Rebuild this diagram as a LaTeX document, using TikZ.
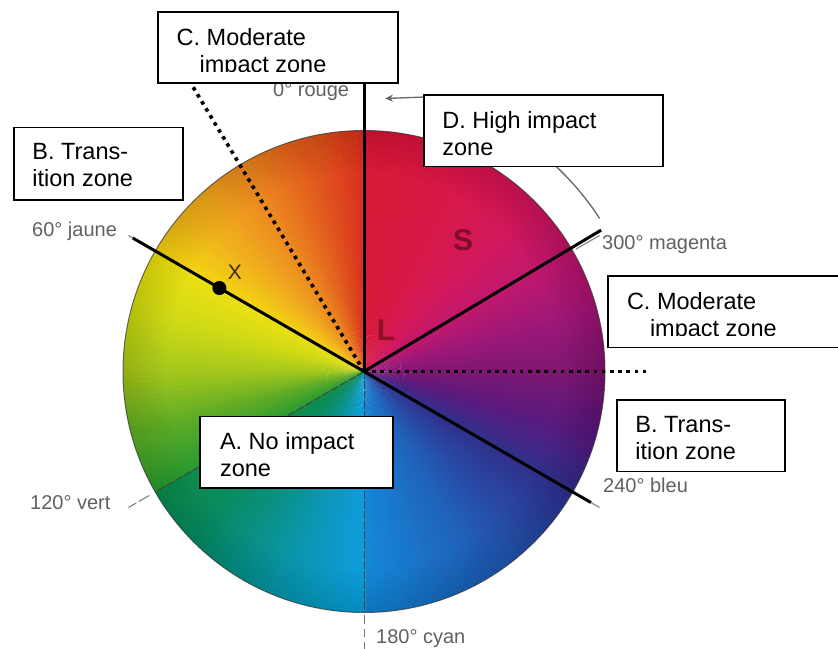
\documentclass[tikz,border=0pt]{standalone}
\usepackage{fontspec}
\setmainfont{Liberation Sans}
\usetikzlibrary{arrows.meta}
\definecolor{k01}{HTML}{1488D8}
\definecolor{k02}{HTML}{2062BA}
\definecolor{k03}{HTML}{30308C}
\definecolor{k04}{HTML}{5A1A7E}
\definecolor{k05}{HTML}{7E1872}
\definecolor{k06}{HTML}{9E1878}
\definecolor{k07}{HTML}{C0186E}
\definecolor{k08}{HTML}{D2185C}
\definecolor{k09}{HTML}{D6184C}
\definecolor{k10}{HTML}{D8183F}
\definecolor{k11}{HTML}{D81A36}
\definecolor{k12}{HTML}{D8301E}
\definecolor{k13}{HTML}{E25C1E}
\definecolor{k14}{HTML}{EC8820}
\definecolor{k15}{HTML}{F0AC1E}
\definecolor{k16}{HTML}{F2D414}
\definecolor{k17}{HTML}{ECE012}
\definecolor{k18}{HTML}{D0DA16}
\definecolor{k19}{HTML}{A4C81C}
\definecolor{k20}{HTML}{60AC26}
\definecolor{k21}{HTML}{289A30}
\definecolor{k22}{HTML}{0E8C48}
\definecolor{k23}{HTML}{0A8C66}
\definecolor{k24}{HTML}{0A9290}
\definecolor{k25}{HTML}{0C98BC}
\definecolor{k26}{HTML}{0E9CDC}
\definecolor{Sred}{HTML}{7E0E2C}
\definecolor{Lred}{HTML}{8E1028}
\definecolor{Xbrown}{HTML}{3E2A10}
\begin{document}
\begin{tikzpicture}[x=1pt,y=1pt,
  zbox/.style={draw=black,line width=1.8pt,fill=white,inner sep=0pt,anchor=north west},
  ztext/.style={inner sep=0pt,anchor=north west,align=left,font=\fontsize{23.5}{27}\selectfont},
  huelab/.style={text=black!62,inner sep=0pt,anchor=base west,font=\fontsize{20}{24}\selectfont},
  zoneline/.style={line width=3pt,black},
  dotline/.style={line width=3.6pt,black,dash pattern=on 3.6pt off 4.6pt},
  wheelline/.style={black!75,line width=0.9pt,dash pattern=on 8pt off 2pt},
  huetick/.style={black!45,line width=1.2pt},
  arcline/.style={black!60,line width=1.3pt,-{Stealth[length=8pt,width=7pt]}},
  wheelletter/.style={inner sep=0pt,font=\fontsize{30}{34}\selectfont\bfseries}]
\fill[white] (0,0) rectangle (838,648);
\useasboundingbox (0,0) rectangle (838,648);
\coordinate (O) at (364,276.5);
\begin{scope}[shift={(O)}]
  % colour wheel
  \foreach \angA/\angB/\colA/\colB in {-90/-60/k01/k02,-60/-30/k02/k03,-30/-15/k03/k04,-15/0/k04/k05,
      0/15/k05/k06,15/30/k06/k07,30/45/k07/k08,45/60/k08/k09,60/75/k09/k10,75/90/k10/k11,
      90/105/k12/k13,105/120/k13/k14,120/135/k14/k15,135/150/k15/k16,150/165/k17/k18,
      165/180/k18/k19,180/195/k19/k20,195/210/k20/k21,210/225/k22/k23,225/240/k23/k24,
      240/255/k24/k25,255/270/k25/k26}{
    \pgfmathtruncatemacro\wn{(\angB-\angA)/1.5}
    \foreach \wk in {1,...,\wn}{
      \pgfmathsetmacro\wa{\angA+(\angB-\angA)*(\wk-1)/\wn}
      \pgfmathsetmacro\wb{\angA+(\angB-\angA)*\wk/\wn+0.5}
      \pgfmathsetmacro\wp{100*(\wk-0.5)/\wn}
      \fill[color=\colB!\wp!\colA] (0,0) -- (\wa:241) arc[start angle=\wa,end angle=\wb,radius=241] -- cycle;
    }
  }
  \foreach \rr in {200,205,...,235}{
    \fill[black,opacity=0.012,even odd rule] (0,0) circle[radius=241] (0,0) circle[radius=\rr];
  }
  \draw[black!80,line width=1pt,opacity=0.7] (0,0) circle[radius=241];
  \coordinate (e0) at (90:294);
  \coordinate (e60) at (150:267);
  \coordinate (e240) at (-30:262);
  \coordinate (e300) at (30.8:276);
  \coordinate (d30) at (121:340);
  \coordinate (d270) at (0:283);
  \coordinate (w120) at (210:241);
  \coordinate (w180) at (270:241);
  \coordinate (a0) at (33:281);
  \coordinate (xd) at (150:167);
  \foreach \ta in {150,30,-30}{\draw[huetick] (\ta:245) -- (\ta:272);}
  \draw[black!50,line width=1.1pt,dash pattern=on 12pt off 3pt] (210:248) -- (210:272);
  \draw[black!55,line width=1pt,dash pattern=on 8pt off 5pt] (270:244) -- (270:280);
\end{scope}
\coordinate (aT) at (425,551);
\coordinate (aH) at (385,549.5);
% thin lines of the wheel
\draw[wheelline] (O) -- (w120);
\draw[wheelline] (O) -- (w180);
% hue labels
\node[huelab] (h0) at (273,551.5) {0° rouge};
\node[huelab] (h60) at (32,411.5) {60° jaune};
\node[huelab] (h120) at (30,138.5) {120° vert};
\node[huelab] (h180) at (376,4.5) {180° cyan};
\node[huelab] (h240) at (603,155.5) {240° bleu};
\node[huelab] (h300) at (602,398) {300° magenta};
% letters in the wheel
\node[wheelletter,text=Sred] (S) at (463,408) {S};
\node[wheelletter,text=Lred] (L) at (386,318) {L};
\node[inner sep=0pt,font=\fontsize{21}{24}\selectfont,text=Xbrown] (X) at (235,375.3) {X};
% zone boundaries
\draw[zoneline] (O) -- (e0);
\draw[zoneline] (O) -- (e60);
\draw[zoneline] (O) -- (e240);
\draw[zoneline] (O) -- (e300);
\draw[dotline] (O) -- (d30);
\draw[dotline] (O) -- (d270);
\node[circle,fill=black,inner sep=0pt,minimum size=14pt] (xdot) at (xd) {};
% arc with arrow
\draw[arcline] (a0) arc[start angle=33,end angle=52,radius=281] -- (aT) -- (aH);
% boxes
\node[zbox,minimum width=240pt,minimum height=71pt] (topC) at (157,637) {};
\node[zbox,minimum width=169pt,minimum height=72.3pt] (leftB) at (12.7,521.3) {};
\node[zbox,minimum width=239pt,minimum height=71.4pt] (D) at (422.7,553.7) {};
\node[zbox,minimum width=233pt,minimum height=71.7pt] (rightC) at (607.3,373) {};
\node[zbox,minimum width=168.3pt,minimum height=71.7pt] (rightB) at (615.7,249) {};
\node[zbox,minimum width=193pt,minimum height=71.6pt] (A) at (199.3,232.3) {};
% box texts
\begin{scope}
  \clip ([yshift=-1pt]topC.north west) rectangle ([yshift=-61pt]topC.north east);
  \node[ztext] (topCt) at ([xshift=19.5pt,yshift=-16.8pt]topC.north west) {C. Moderate\\\hspace*{23pt}impact zone};
\end{scope}
\begin{scope}
  \clip ([yshift=-1pt]rightC.north west) rectangle ([yshift=-61pt,xshift=-2pt]rightC.north east);
  \node[ztext] (rightCt) at ([xshift=19.5pt,yshift=-16.8pt]rightC.north west) {C. Moderate\\\hspace*{23pt}impact zone};
\end{scope}
\node[ztext] (leftBt) at ([xshift=19.5pt,yshift=-16.8pt]leftB.north west) {B. Trans-\\ition zone};
\node[ztext] (Dt) at ([xshift=19.5pt,yshift=-16.8pt]D.north west) {D. High impact\\zone};
\node[ztext] (rightBt) at ([xshift=19.5pt,yshift=-16.8pt]rightB.north west) {B. Trans-\\ition zone};
\node[ztext] (At) at ([xshift=20.5pt,yshift=-16.8pt]A.north west) {A. No impact\\zone};
\end{tikzpicture}
\end{document}
